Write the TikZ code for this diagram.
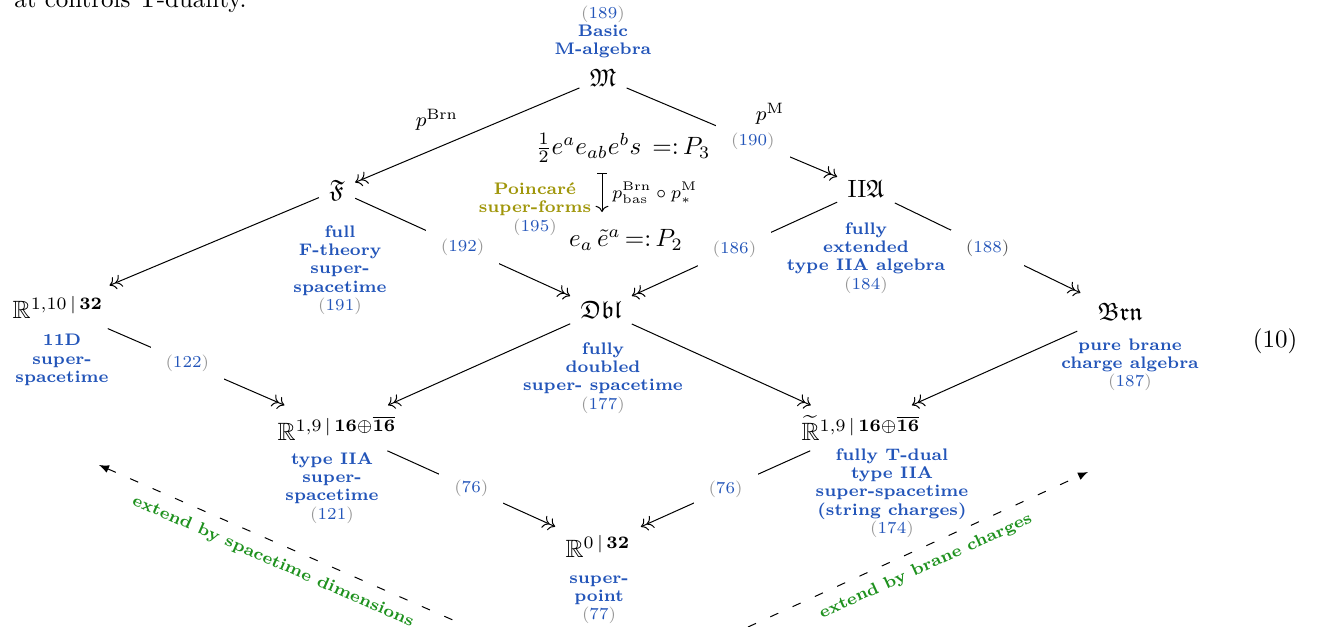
\documentclass[tikz,border=0pt]{standalone}
\usepackage{amsmath,amssymb}
\usetikzlibrary{arrows.meta}
\definecolor{lblue}{RGB}{35,85,185}
\definecolor{pgray}{RGB}{150,150,150}
\definecolor{dgray}{RGB}{85,85,85}
\definecolor{olivec}{RGB}{160,150,10}
\definecolor{greenc}{RGB}{30,145,30}
\newcommand{\nref}[1]{{\mdseries\color{pgray}(}{\mdseries\color{lblue}#1}{\mdseries\color{pgray})}}
\newcommand{\nrefd}[1]{{\mdseries\color{dgray}(}{\mdseries\color{lblue}#1}{\mdseries\color{dgray})}}
\newcommand{\labfont}{\fontsize{6.7}{7.3}\selectfont}
\tikzset{
  obj/.style={inner sep=4pt},
  desc/.style={align=center, font=\labfont\bfseries, text=lblue, inner sep=0pt},
  dmap/.style={-{To[]To[]}, line width=0.4pt},
  elab/.style={fill=white, inner xsep=6pt, inner ysep=4pt, font=\labfont},
  mlab/.style={font=\footnotesize},
  extarrow/.style={dash pattern=on 3.5pt off 6.3pt},
  extlab/.style={font=\labfont\bfseries, text=greenc, sloped},
}
\begin{document}
\begin{tikzpicture}[x=0.4pt,y=-0.4pt]
\useasboundingbox (0,0) rectangle (1322,627);

% cropped body text
\node[anchor=base east, inner sep=0pt] (toptext) at (247,7) {at controls T-duality.};

% objects
\node[obj] (M)    at (603,78)  {$\mathfrak{M}$};
\node[obj] (F)    at (337,190) {$\mathfrak{F}$};
\node[obj] (IIA)  at (866,189) {$\mathrm{II}\mathfrak{A}$};
\node[obj] (R110) at (58,307)  {$\mathbb{R}^{1,10\,\vert\,\mathbf{32}}$};
\node[obj] (Dbl)  at (601,310) {$\mathfrak{Dbl}$};
\node[obj, inner xsep=9pt] (Brn)  at (1120,312) {$\mathfrak{Brn}$};
\node[obj, inner xsep=2pt] (R19)  at (337,428) {$\mathbb{R}^{1,9\,\vert\,\mathbf{16}\oplus\overline{\mathbf{16}}}$};
\node[obj] (R19t) at (861,428) {$\widetilde{\mathbb{R}}^{1,9\,\vert\,\mathbf{16}\oplus\overline{\mathbf{16}}}$};
\node[obj] (R0)   at (598,546) {$\mathbb{R}^{0\,\vert\,\mathbf{32}}$};

% descriptions
\node[desc] (Mlab)    at (603,32)  {\nref{189}\\Basic\\M-algebra};
\node[desc] (Flab)    at (340,270) {full\\F-theory\\super-\\spacetime\\\nref{191}};
\node[desc] (IIAlab)  at (866,258) {fully\\extended\\type IIA algebra\\\nref{184}};
\node[desc] (R110lab) at (62,360)  {11D\\super-\\spacetime};
\node[desc] (Dbllab)  at (603,378) {fully\\doubled\\super- spacetime\\\nref{177}};
\node[desc] (Brnlab)  at (1130,365) {pure brane\\charge algebra\\\nref{187}};
\node[desc] (R19lab)  at (332,488) {type IIA\\super-\\spacetime\\\nref{121}};
\node[desc] (R19tlab) at (892,493) {fully T-dual\\type IIA\\super-spacetime\\(string charges)\\\nref{174}};
\node[desc] (R0lab)   at (599,600) {super-\\point\\\nref{77}};

% equation number
\node (eqno) at (1275,341) {(10)};

% central super-forms
\node (P3) at (623,148) {$\tfrac{1}{2}e^a e_{ab} e^b s \;\,{=}{:}\,P_3$};
\node (P2) at (626,240) {$e_a\,\tilde{e}^a \,{=}{:}\,P_2$};
\coordinate (mt) at (602,173);
\coordinate (mb) at (602,212);
\draw[{Bar[width=4pt]}-{To[]}] (mt) -- (mb)
  node[midway, right, font=\scriptsize, xshift=0.5pt] {$p^{\mathrm{Brn}}_{\mathrm{bas}}\circ p^{\mathrm{M}}_{\ast}$};
\node[desc, text=olivec] (PSF) at (535,209) {Poincar\'e\\super-forms\\\nref{195}};

% maps
\draw[dmap] (M) -- (F);
\node[mlab] (pBrn) at (437,120) {$p^{\mathrm{Brn}}$};
\draw[dmap] (M) -- (IIA) node[elab, pos=0.6] {\nref{190}};
\node[mlab] (pM) at (770,114) {$p^{\mathrm{M}}$};
\draw[dmap] (F) -- (R110);
\draw[dmap] (F) -- (Dbl) node[elab, midway] {\nref{192}};
\draw[dmap] (IIA) -- (Dbl) node[elab, midway] {\nref{186}};
\draw[dmap] (IIA) -- (Brn) node[elab, midway] {\nrefd{188}};
\draw[dmap] (R110) -- (R19) node[elab, pos=0.45] {\nref{122}};
\draw[dmap] (Dbl) -- (R19);
\draw[dmap] (Dbl) -- (R19t);
\draw[dmap] (Brn) -- (R19t);
\draw[dmap] (R19) -- (R0) node[elab, midway] {\nref{76}};
\draw[dmap] (R19t) -- (R0) node[elab, midway] {\nref{76}};

% extension arrows
\coordinate (le) at (99,465);
\coordinate (ls) at (462,624);
\draw[extarrow, {Latex[length=4pt,width=3.2pt]}-] (le) -- (ls)
  node[extlab, pos=0.5, below, yshift=-1pt] {extend by spacetime dimensions};
\coordinate (rs) at (748,627);
\coordinate (re) at (1088,472);
\draw[extarrow, -{Latex[length=4pt,width=3.2pt]}] (rs) -- (re)
  node[extlab, pos=0.5, below, yshift=-1pt] {extend by brane charges};
\end{tikzpicture}
\end{document}
